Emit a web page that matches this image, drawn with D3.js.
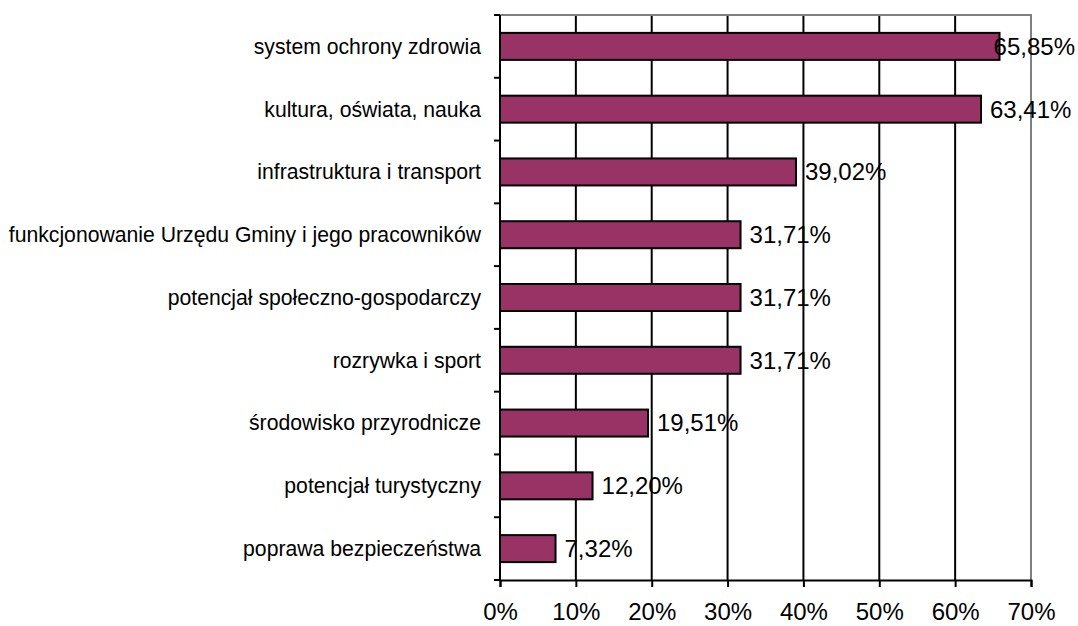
<!DOCTYPE html>
<html>
<head>
<meta charset="utf-8">
<script src="https://cdn.jsdelivr.net/npm/d3@7"></script>
<style>
    body { margin: 0; background: #fff; }
    svg { display: block; font-family: "Liberation Sans", Arial, sans-serif; }
</style>
</head>
<body>
<div id="chart"></div>
<script>
// categories from top to bottom
let categories = [
    "system ochrony zdrowia",
    "kultura, oświata, nauka",
    "infrastruktura i transport",
    "funkcjonowanie Urzędu Gminy i jego pracowników",
    "potencjał społeczno-gospodarczy",
    "rozrywka i sport",
    "środowisko przyrodnicze",
    "potencjał turystyczny",
    "poprawa bezpieczeństwa"
];
let values = [65.85, 63.41, 39.02, 31.71, 31.71, 31.71, 19.51, 12.20, 7.32];
let xTicks = [0, 10, 20, 30, 40, 50, 60, 70];

let width = 1078,
    height = 626;
let margin = {top: 15, right: 47, bottom: 46, left: 500};

let svg = d3.select("#chart")
    .append("svg")
    .attr("width", width)
    .attr("height", height);

let xScale = d3.scaleLinear()
    .domain([0, 70])
    .range([margin.left, width - margin.right]);

let yScale = d3.scaleBand()
    .domain(categories)
    .range([margin.top, height - margin.bottom])
    .padding(0);

let barH = yScale.bandwidth() * 0.43;
let fmt = v => v.toFixed(2).replace(".", ",") + "%";

// gridlines
svg.append("g")
    .selectAll("line")
    .data(xTicks.slice(1, -1))
    .enter().append("line")
    .attr("x1", d => xScale(d)).attr("x2", d => xScale(d))
    .attr("y1", margin.top).attr("y2", height - margin.bottom)
    .attr("stroke", "#000")
    .attr("stroke-width", 2);

// plot border (top and right, grey)
svg.append("path")
    .attr("d", "M" + xScale(0) + "," + margin.top + "H" + xScale(70) + "V" + (height - margin.bottom))
    .attr("fill", "none")
    .attr("stroke", "#808080")
    .attr("stroke-width", 2);

// bars
svg.append("g")
    .selectAll("rect")
    .data(values)
    .enter().append("rect")
    .attr("x", xScale(0))
    .attr("y", (d, i) => yScale(categories[i]) + (yScale.bandwidth() - barH) / 2)
    .attr("width", d => xScale(d) - xScale(0))
    .attr("height", barH)
    .attr("fill", "#993366")
    .attr("stroke", "#000")
    .attr("stroke-width", 2);

// x axis
let xAxis = d3.axisBottom(xScale)
    .tickValues(xTicks)
    .tickSize(7)
    .tickPadding(16)
    .tickFormat(d => d + "%");

let gx = svg.append("g")
    .attr("transform", "translate(0," + (height - margin.bottom) + ")")
    .call(xAxis);
gx.select(".domain").attr("stroke", "#000").attr("stroke-width", 2);
gx.selectAll(".tick line").attr("stroke", "#000").attr("stroke-width", 2);
gx.selectAll(".tick text")
    .attr("fill", "#000")
    .style("font-size", "24px")
    .style("font-family", "'Liberation Sans', Arial, sans-serif");

// y axis: ticks sit on the category boundaries
let gy = svg.append("g");
gy.append("line")
    .attr("x1", xScale(0)).attr("x2", xScale(0))
    .attr("y1", margin.top).attr("y2", height - margin.bottom)
    .attr("stroke", "#000").attr("stroke-width", 2);
gy.selectAll(".ytick")
    .data(categories.concat([null]))
    .enter().append("line")
    .attr("class", "ytick")
    .attr("x1", xScale(0) - 6).attr("x2", xScale(0))
    .attr("y1", (d, i) => margin.top + i * yScale.step())
    .attr("y2", (d, i) => margin.top + i * yScale.step())
    .attr("stroke", "#000").attr("stroke-width", 2);

gy.selectAll(".ylabel")
    .data(categories)
    .enter().append("text")
    .attr("class", "ylabel")
    .attr("x", xScale(0) - 19)
    .attr("y", d => yScale(d) + yScale.bandwidth() / 2)
    .attr("dy", "0.35em")
    .attr("text-anchor", "end")
    .style("font-size", "21.2px")
    .text(d => d);

// value labels, kept inside the picture
svg.append("g")
    .selectAll("text")
    .data(values)
    .enter().append("text")
    .attr("y", (d, i) => yScale(categories[i]) + yScale.bandwidth() / 2)
    .attr("dy", "0.35em")
    .style("font-size", "24px")
    .text(d => fmt(d))
    .attr("x", function (d) {
        let w = this.getComputedTextLength();
        return Math.min(xScale(d) + 9, width - 3 - w);
    });
</script>
</body>
</html>
